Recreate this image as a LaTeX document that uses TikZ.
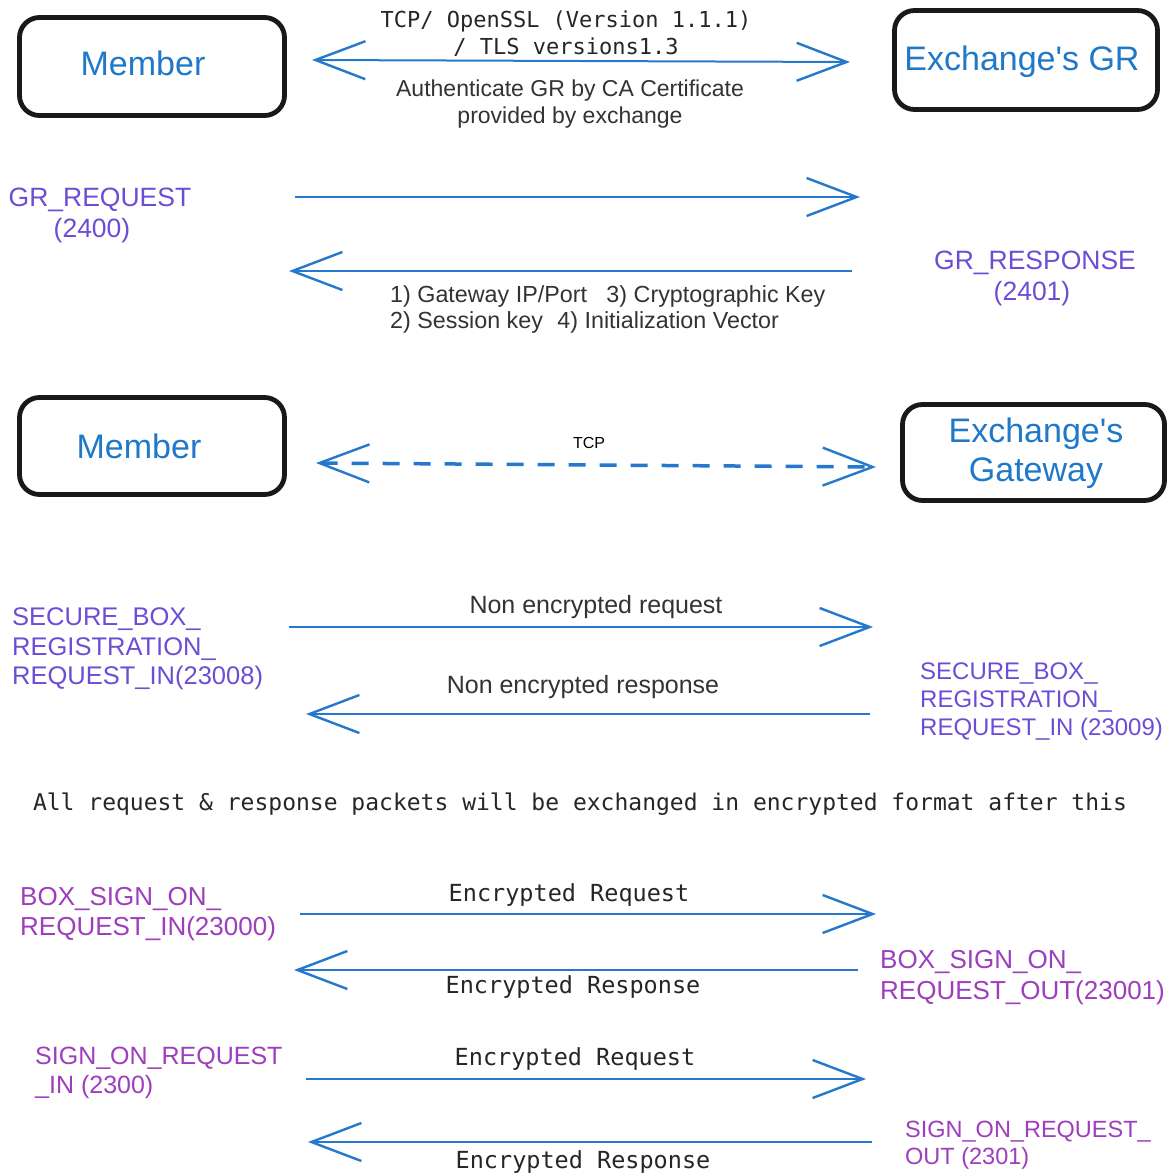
\documentclass[tikz,border=0pt]{standalone}
\usepackage{fontspec}
\setmainfont{Liberation Sans}
\newfontfamily\monof{DejaVu Sans Mono}
\usetikzlibrary{arrows.meta}
\definecolor{boxblue}{RGB}{31,120,200}
\definecolor{arrblue}{RGB}{38,120,204}
\definecolor{violetc}{RGB}{108,78,214}
\definecolor{magc}{RGB}{158,62,188}
\definecolor{graytxt}{RGB}{51,51,51}
\begin{document}
\begin{tikzpicture}[x=1pt,y=-1pt,
  sketchbox/.style={draw=black!90, line width=4.8pt, rounded corners=20pt, inner sep=0pt},
  boxlbl/.style={inner sep=0pt, text=boxblue, font=\fontsize{34}{39}\selectfont, align=center},
  arr/.style={draw=arrblue, line width=2pt, -{Straight Barb[length=50pt,width=38pt,line width=2.4pt]}},
  darr/.style={draw=arrblue, line width=2pt, {Straight Barb[length=50pt,width=38pt,line width=2.4pt]}-{Straight Barb[length=50pt,width=38pt,line width=2.4pt]}},
  graylbl/.style={inner sep=0pt, yshift=-2.5pt, text=graytxt, align=center, font=\fontsize{23}{27}\selectfont},
  monolbl/.style={inner sep=0pt, yshift=-2pt, text=black!85, align=center, font=\monof\fontsize{23.5}{27}\selectfont},
  vlbl/.style={inner sep=0pt, yshift=-2.5pt, text=violetc, font=\fontsize{26}{30}\selectfont},
  mlbl/.style={inner sep=0pt, yshift=-2.5pt, text=magc, font=\fontsize{26}{30}\selectfont}
]
\useasboundingbox (0,0) rectangle (1169,1175);
\fill[white] (0,0) rectangle (1169,1175);

% boxes
\node[sketchbox, minimum width=265pt, minimum height=98pt] (mem1) at (152,66.5) {};
\node[sketchbox, minimum width=263pt, minimum height=99pt] (egr) at (1026,60) {};
\node[sketchbox, minimum width=265pt, minimum height=97pt] (mem2) at (152,446) {};
\node[sketchbox, minimum width=262pt, minimum height=96pt] (egw) at (1033.5,452.5) {};
\node[boxlbl] (mem1t) at (143,63) {Member};
\node[boxlbl] (egrt) at (1022,62) {Exchange\textquotesingle s GR};
\node[boxlbl] (mem2t) at (139,446) {Member};
\node[boxlbl] (egwt) at (1036,453) {Exchange\textquotesingle s\\Gateway};

% connector ends
\coordinate (a1l) at (312,60);   \coordinate (a1r) at (850,62);
\coordinate (a2l) at (295,197);  \coordinate (a2r) at (860,197);
\coordinate (a3r) at (852,271);  \coordinate (a3l) at (289,271);
\coordinate (a4l) at (316,463);  \coordinate (a4r) at (876,467);
\coordinate (a5l) at (289,627);  \coordinate (a5r) at (873,627);
\coordinate (a6r) at (870,714);  \coordinate (a6l) at (306,714);
\coordinate (a7l) at (300,914);  \coordinate (a7r) at (876,914);
\coordinate (a8r) at (858,970);  \coordinate (a8l) at (294,970);
\coordinate (a9l) at (306,1079); \coordinate (a9r) at (866,1079);
\coordinate (a10r) at (872,1142); \coordinate (a10l) at (308,1142);

\draw[darr] (a1l) -- (a1r);
\draw[arr] (a2l) -- (a2r);
\draw[arr] (a3r) -- (a3l);
\draw[darr, line width=3.5pt, dash pattern=on 17pt off 14pt] (a4l) -- (a4r);
\draw[arr] (a5l) -- (a5r);
\draw[arr] (a6r) -- (a6l);
\draw[arr] (a7l) -- (a7r);
\draw[arr] (a8r) -- (a8l);
\draw[arr] (a9l) -- (a9r);
\draw[arr] (a10r) -- (a10l);

% labels
\node[monolbl, font=\monof\fontsize{22}{27}\selectfont] (tls) at (566,31.5) {TCP/ OpenSSL (Version 1.1.1)\\/ TLS versions1.3};
\node[graylbl] (auth) at (570,101.5) {Authenticate GR by CA Certificate\\provided by exchange};
\node[vlbl, align=center, font=\fontsize{26.5}{31}\selectfont] (grreq) at (100,212.5) {GR\_REQUEST\\\hspace{-16pt}(2400)};
\node[vlbl, align=center, font=\fontsize{26.5}{31}\selectfont] (grres) at (1035,276) {GR\_RESPONSE\\\hspace{-6pt}(2401)};
\node[graylbl, anchor=west, align=left, font=\fontsize{23.3}{26}\selectfont] (keys) at (390,307)
  {1) Gateway IP/Port\hspace{13pt} 3) Cryptographic Key\\2) Session key\hspace{8pt} 4) Initialization Vector};
\node[inner sep=0pt, font=\fontsize{16}{19}\selectfont] (tcp) at (589,443) {TCP};
\node[graylbl, font=\fontsize{25}{29}\selectfont] (ner) at (596,605) {Non encrypted request};
\node[graylbl, font=\fontsize{25}{29}\selectfont] (nes) at (583,685) {Non encrypted response};
\node[vlbl, anchor=west, align=left, font=\fontsize{25.5}{29.5}\selectfont] (sbl) at (12,646.5)
  {SECURE\_BOX\_\\REGISTRATION\_\\REQUEST\_IN(23008)};
\node[vlbl, anchor=west, align=left, font=\fontsize{24}{28}\selectfont] (sbr) at (920,699)
  {SECURE\_BOX\_\\REGISTRATION\_\\REQUEST\_IN (23009)};
\node[monolbl, font=\monof\fontsize{23}{27}\selectfont] (allreq) at (580,802)
  {All request \& response packets will be exchanged in encrypted format after this};
\node[monolbl] (er1) at (569,893) {Encrypted Request};
\node[monolbl] (es1) at (573,985) {Encrypted Response};
\node[monolbl] (er2) at (575,1057) {Encrypted Request};
\node[monolbl] (es2) at (583,1160) {Encrypted Response};
\node[mlbl, anchor=west, align=left] (bsl) at (20,912) {BOX\_SIGN\_ON\_\\REQUEST\_IN(23000)};
\node[mlbl, anchor=west, align=left, font=\fontsize{26}{31}\selectfont] (bsr) at (880,975.5) {BOX\_SIGN\_ON\_\\REQUEST\_OUT(23001)};
\node[mlbl, anchor=west, align=left, font=\fontsize{25}{29}\selectfont] (sol) at (35,1070.5) {SIGN\_ON\_REQUEST\\\_IN (2300)};
\node[mlbl, anchor=west, align=left, font=\fontsize{23.5}{27}\selectfont] (sor) at (905,1142.5) {SIGN\_ON\_REQUEST\_\\OUT (2301)};
\end{tikzpicture}
\end{document}
